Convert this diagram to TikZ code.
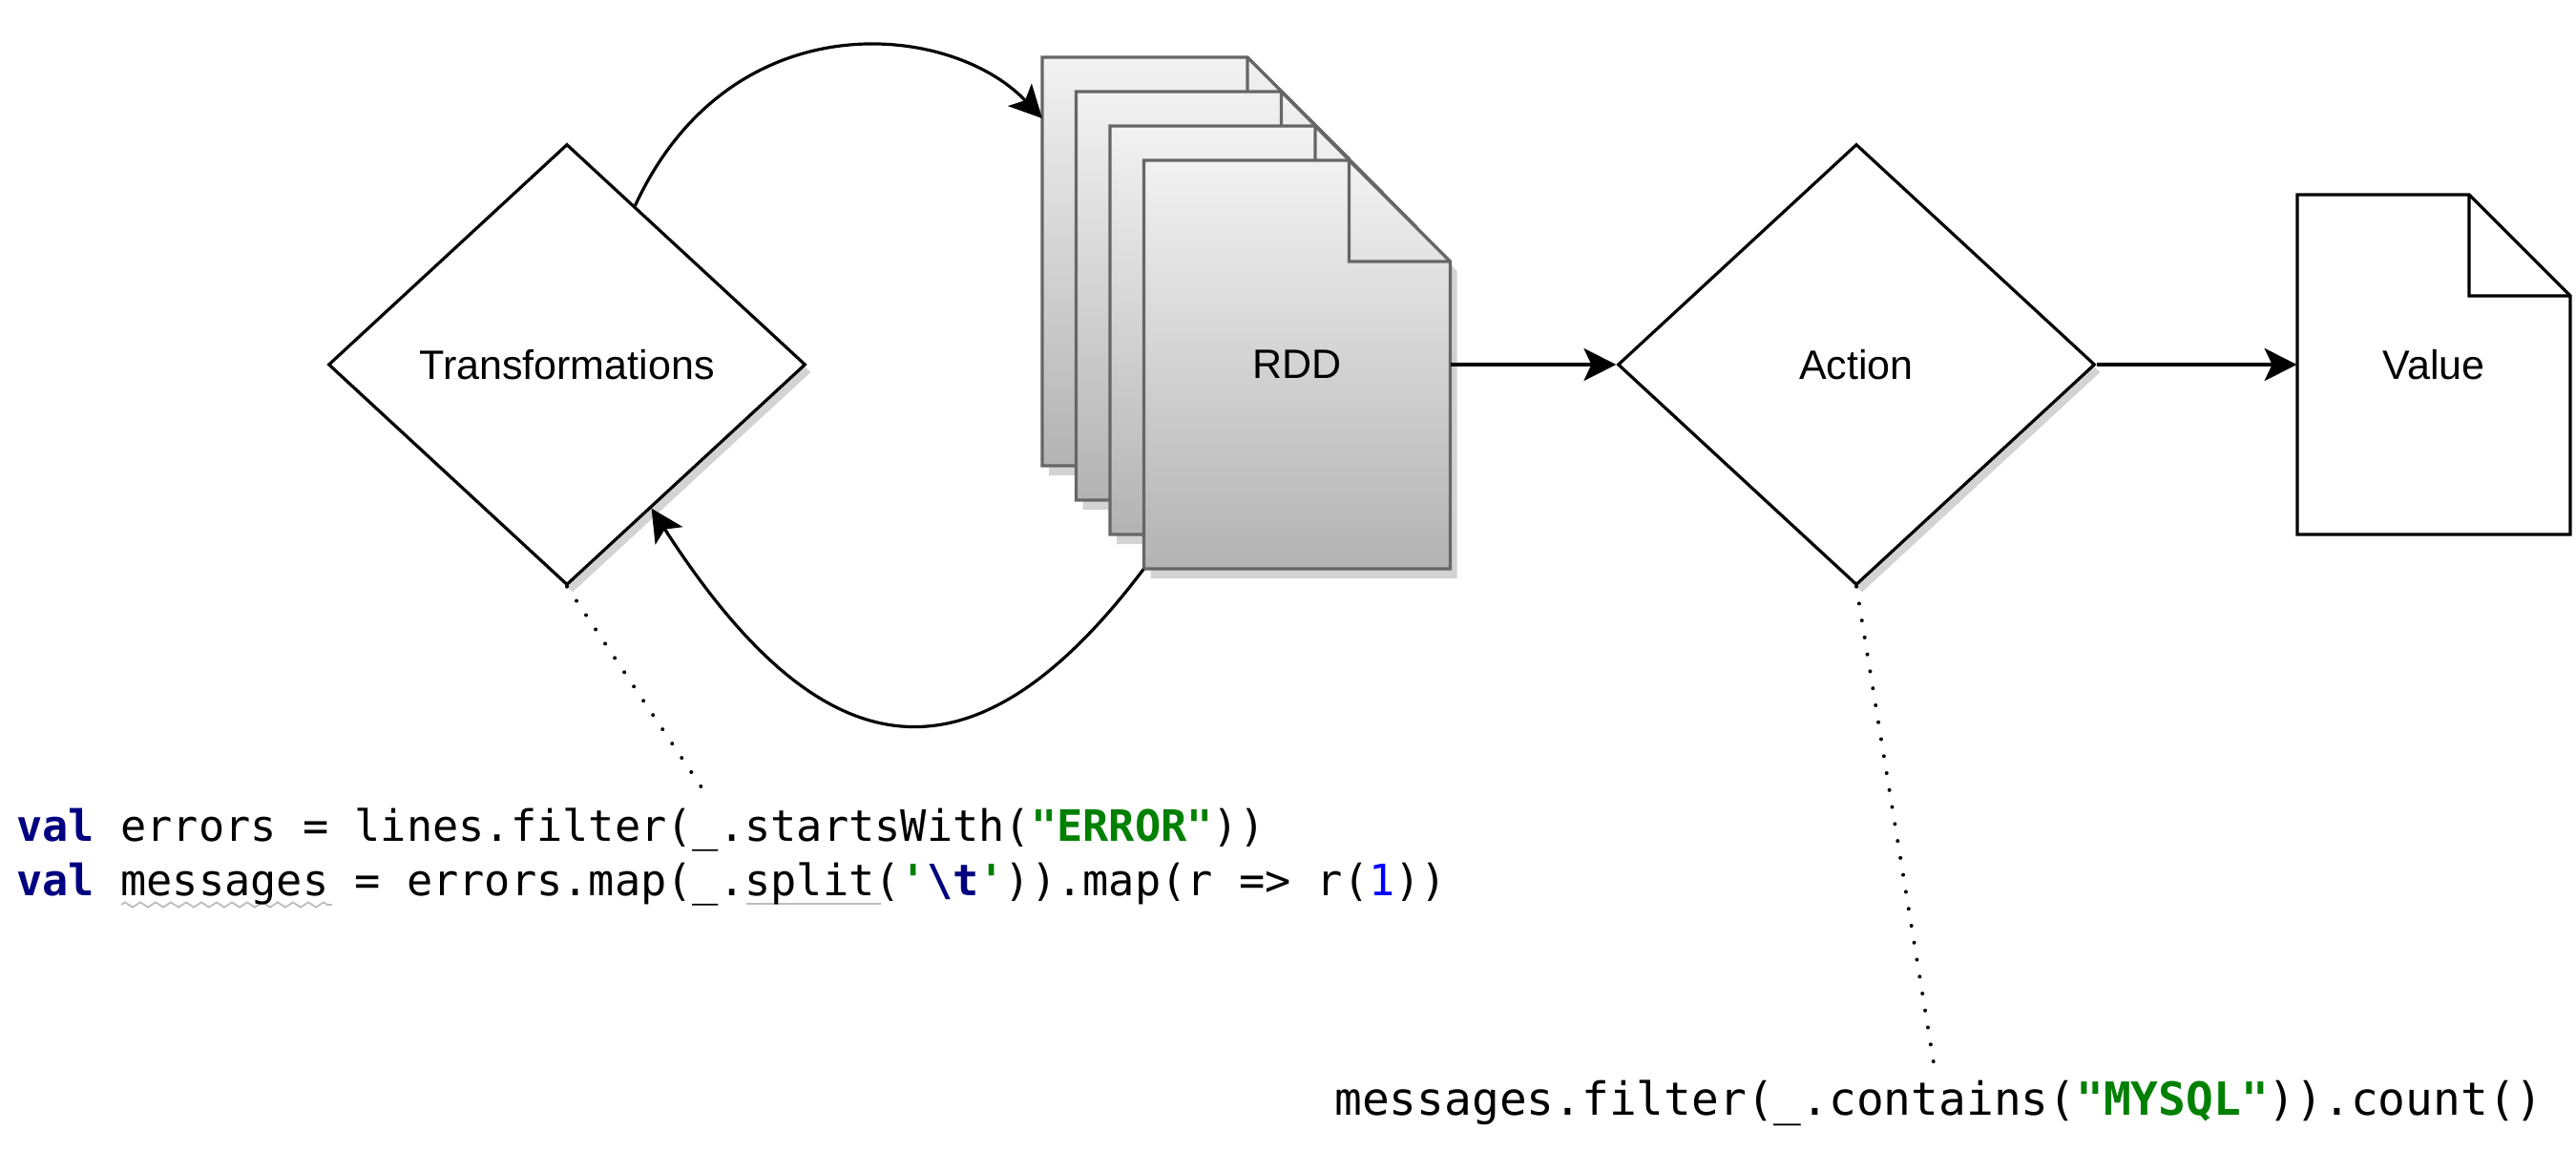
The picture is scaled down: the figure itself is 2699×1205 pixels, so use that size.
\documentclass[tikz,border=0pt]{standalone}
\usepackage{fontspec}
\setmonofont{DejaVu Sans Mono}[WordSpace={1,0,0}]
\newfontfamily\labfont{Liberation Sans}
\usetikzlibrary{arrows.meta,shapes.geometric,shadows,calc,decorations.pathmorphing}
\definecolor{kw}{HTML}{000080}
\definecolor{str}{HTML}{008000}
\definecolor{num}{HTML}{0000FF}
\definecolor{pgtop}{HTML}{F2F2F2}
\definecolor{pgbot}{HTML}{B3B3B3}
\definecolor{pgline}{HTML}{666666}
\definecolor{shad}{HTML}{D3D3D3}
\definecolor{uline}{HTML}{BDBDBD}
\newcommand\KW[1]{{\color{kw}\bfseries #1}}
\newcommand\STR[1]{{\color{str}\bfseries #1}}
\newcommand\NUM[1]{{\color{num}#1}}
\begin{document}
\begin{tikzpicture}[x=0.5pt,y=-0.5pt,
  lab/.style={font=\labfont\fontsize{21.5}{26}\selectfont},
  decision/.style={diamond, draw=black, fill=white, line width=1.6pt,
    minimum width=250pt, minimum height=231pt, inner sep=0pt, lab,
    drop shadow={shadow xshift=3pt, shadow yshift=-4pt, fill=shad, opacity=1}},
  labelbox/.style={rectangle, inner sep=0pt, lab},
  conn/.style={draw=black, line width=1.6pt, -{Stealth[length=17pt,width=17pt,inset=4pt]}},
  dotline/.style={draw=black, line width=2pt, line cap=round, dash pattern=on 0pt off 9pt},
  codeA/.style={font=\ttfamily\fontsize{22.63}{28}\selectfont, inner sep=0pt, anchor=base west},
  codeB/.style={font=\ttfamily\fontsize{23.9}{29}\selectfont, inner sep=0pt, anchor=base west},
  pageline/.style={draw=pgline, line width=1.6pt, line join=miter}
]
\useasboundingbox (0,0) rectangle (2699,1205);
\fill[white] (0,0) rectangle (2699,1205);

% diamonds
\node[decision] (trans) at (594,382) {Transformations};
\node[decision] (action) at (1945,382) {Action};

% RDD stack of pages
\foreach \i in {0,1,2,3} {
  \pgfmathsetmacro{\L}{1092+35.5*\i}
  \pgfmathsetmacro{\T}{60+36*\i}
  \pgfmathsetmacro{\R}{\L+321}
  \pgfmathsetmacro{\B}{\T+428}
  \pgfmathsetmacro{\F}{\R-106}
  \pgfmathsetmacro{\G}{\T+106}
  \fill[shad] (\L+7,\T+10) -- (\F+7,\T+10) -- (\R+7,\G+10) -- (\R+7,\B+10) -- (\L+7,\B+10) -- cycle;
  \shade[top color=pgtop,bottom color=pgbot] (\L,\T) -- (\F,\T) -- (\R,\G) -- (\R,\B) -- (\L,\B) -- cycle;
  \draw[pageline] (\L,\T) -- (\F,\T) -- (\R,\G) -- (\R,\B) -- (\L,\B) -- cycle
                  (\F,\T) -- (\F,\G) -- (\R,\G);
}
\node[labelbox, minimum width=160.5pt, minimum height=214pt] (rdd) at (1359,382) {RDD};
\coordinate (p1) at (1092,124);

% Value note
\draw[line width=1.6pt, fill=white, line join=miter] (2407,204) -- (2587,204) -- (2693,310) -- (2693,560) -- (2407,560) -- cycle
  (2587,204) -- (2587,310) -- (2693,310);
\node[labelbox, minimum width=143pt, minimum height=178pt] (value) at (2550,382) {Value};

% connectors
\coordinate (t1) at ($(trans.north)!0.284!(trans.east)$);
\coordinate (t2) at ($(trans.south)!0.352!(trans.east)$);
\draw[conn] (t1) .. controls (765,0) and (995,22) .. (p1);
\draw[conn] (rdd.south west) .. controls (1009,847) and (852,796) .. (t2);
\draw[conn] (rdd.east) -- (action.west);
\draw[conn] (action.east) -- (value.west);

% dotted leaders
\coordinate (d1) at (737,828);
\coordinate (d2) at (2027,1120);
\draw[dotline] (trans.south) -- (d1);
\draw[dotline] (action.south) -- (d2);

% code
\draw[uline, line width=0.9pt] (782,947) -- (923,947);
\draw[uline, line width=0.9pt, decorate, decoration={zigzag, amplitude=1.3pt, segment length=8pt}] (127,948) -- (348,948);
\node[codeA] (c1) at (17,881) {\KW{val} errors = lines.filter(\_.startsWith(\STR{"ERROR"}))};
\node[codeA] (c2) at (17,938) {\KW{val} messages = errors.map(\_.split(\STR{'}\KW{\textbackslash t}\STR{'})).map(r => r(\NUM{1}))};
\node[codeB] (c3) at (1398,1168) {messages.filter(\_.contains(\STR{"MYSQL"})).count()};
\end{tikzpicture}
\end{document}
